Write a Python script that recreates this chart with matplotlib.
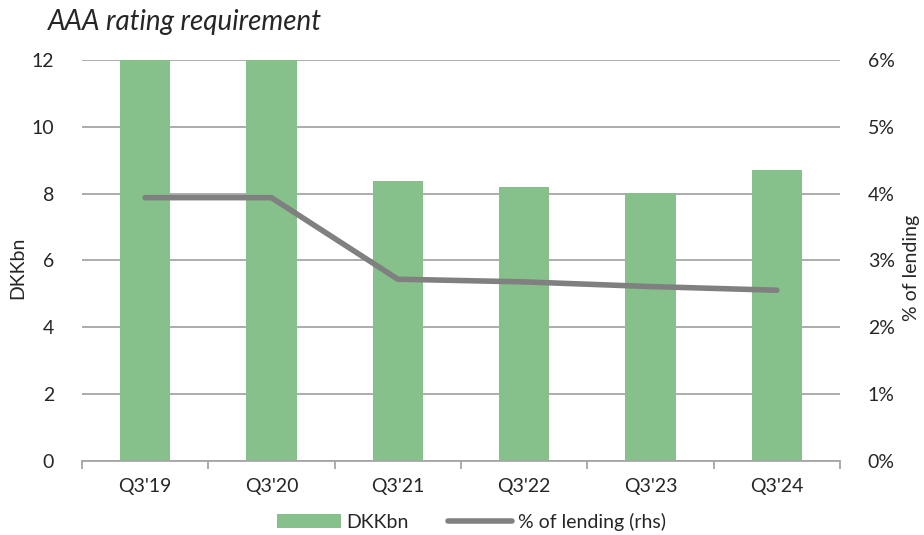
import matplotlib.pyplot as plt
from matplotlib.ticker import FuncFormatter

plt.rcParams['font.family'] = ['Lato', 'DejaVu Sans']

quarters = ["Q3'19", "Q3'20", "Q3'21", "Q3'22", "Q3'23", "Q3'24"]
dkkbn = [12.0, 12.0, 8.38, 8.2, 8.02, 8.72]
pct_lending = [3.94, 3.94, 2.72, 2.68, 2.61, 2.555]

bar_col = '#86C08A'
line_col = '#808080'
grid_col = '#A6A6A6'
txt_col = '#262626'

fig = plt.figure(figsize=(9.24, 5.35), dpi=100)
ax = fig.add_axes([0.0887, 0.1383, 0.8204, 0.7496])
ax2 = ax.twinx()

x = range(len(quarters))
ax.bar(x, dkkbn, width=0.4, color=bar_col, zorder=2, label='DKKbn')
ax2.plot(x, pct_lending, color=line_col, lw=4, solid_capstyle='round',
         zorder=3, label='% of lending (rhs)')

ax.set_xlim(-0.5, len(quarters) - 0.5)
ax.set_ylim(0, 12)
ax.set_yticks(range(0, 13, 2))
ax2.set_ylim(0, 6)
ax2.set_yticks(range(0, 7))
ax2.yaxis.set_major_formatter(FuncFormatter(lambda v, p: f'{v:.0f}%'))

ax.grid(axis='y', color=grid_col, lw=1.3, zorder=0)
ax.set_axisbelow(True)
for a in (ax, ax2):
    for s in ('top', 'left', 'right', 'bottom'):
        a.spines[s].set_visible(False)
ax.spines['bottom'].set_visible(True)
ax.spines['bottom'].set_color(grid_col)
ax.spines['bottom'].set_linewidth(1.3)

ax.set_xticks(list(x))
ax.set_xticklabels(quarters)
ax.set_xticks([i - 0.5 for i in range(len(quarters) + 1)], minor=True)
ax.tick_params(axis='x', which='major', length=0, pad=12, labelsize=14, colors=txt_col)
ax.tick_params(axis='x', which='minor', length=6, width=1.3, color=grid_col, direction='out')
ax.tick_params(axis='y', length=0, pad=20, labelsize=14, colors=txt_col)
ax2.tick_params(axis='y', length=0, pad=20, labelsize=14, colors=txt_col)

# axis titles placed in figure coords so they stay inside the canvas
fig.text(18 / 924, 0.5, 'DKKbn', rotation=90, fontsize=14, color=txt_col,
         ha='center', va='center')
fig.text(912 / 924, 0.5, '% of lending', rotation=90, fontsize=14, color=txt_col,
         ha='center', va='center')

fig.text(0.052, 0.958, 'AAA rating requirement', fontsize=20, style='italic',
         color=txt_col, va='center', ha='left')

h1, l1 = ax.get_legend_handles_labels()
h2, l2 = ax2.get_legend_handles_labels()
fig.legend(h1 + h2, l1 + l2, loc='center', bbox_to_anchor=(0.51, 0.025), ncol=2,
           frameon=False, fontsize=14, handlelength=3.3, handletextpad=0.3,
           columnspacing=2.0, labelcolor=txt_col)

fig.savefig('out.png', dpi=100)
